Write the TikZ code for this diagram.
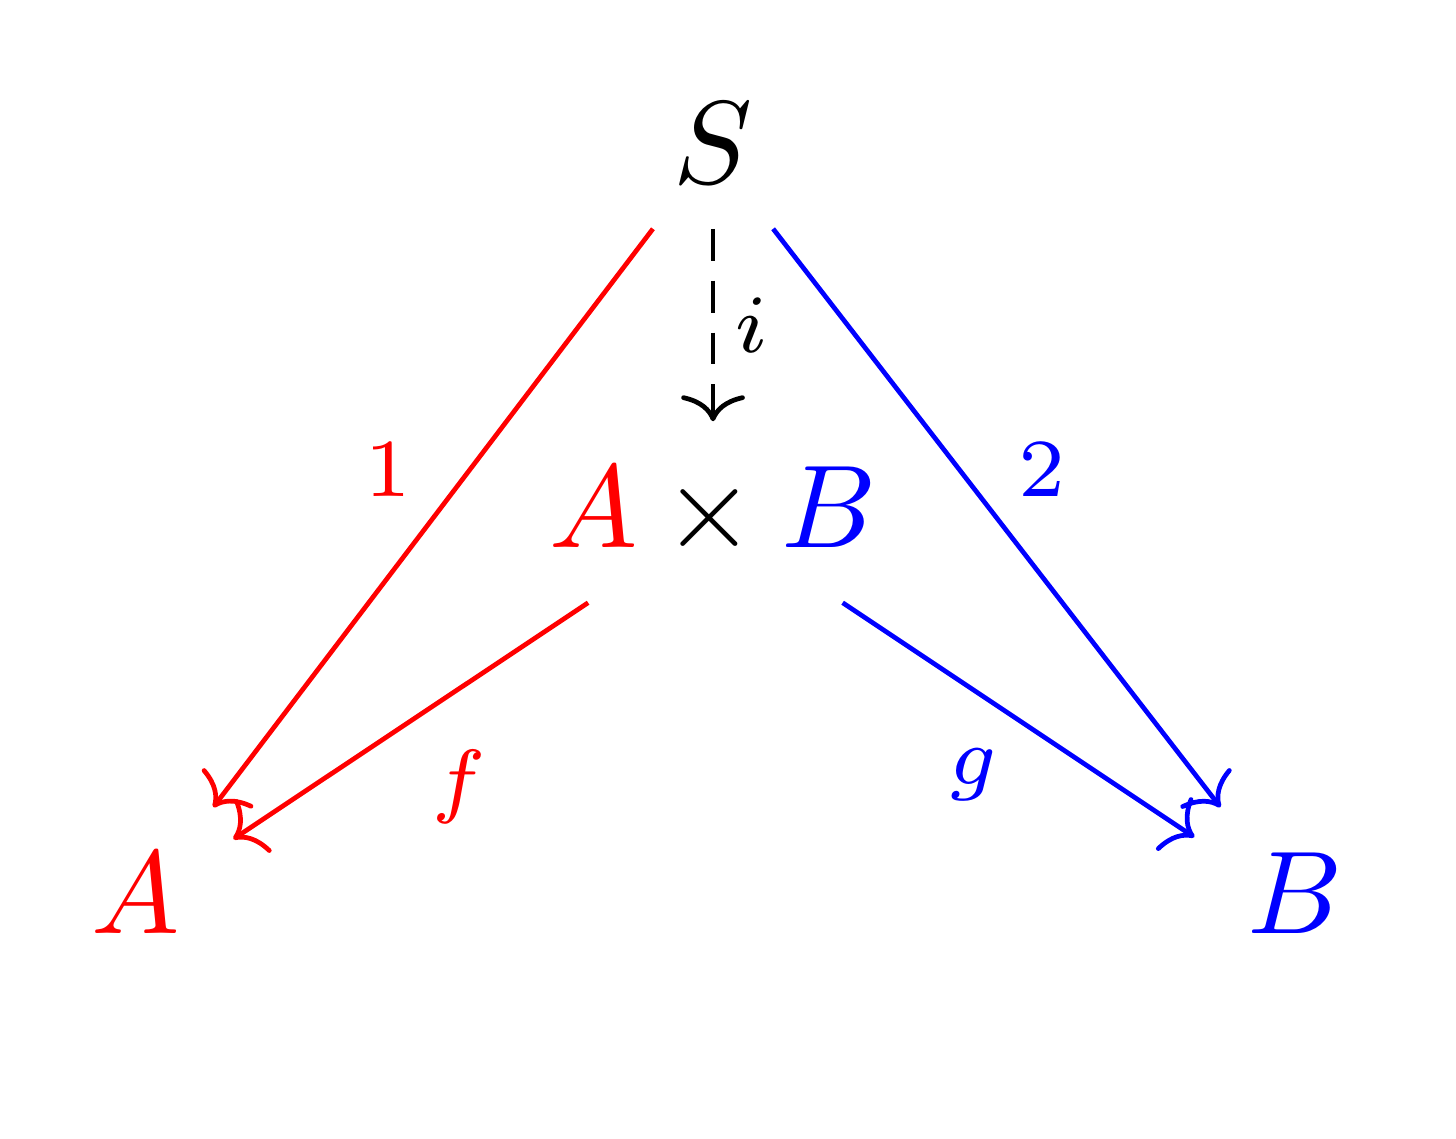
\documentclass[tikz,border=0pt]{standalone}
\usepackage{xcolor}
\usepackage{tikz}
\usetikzlibrary{arrows.meta}

\begin{document}
\begin{tikzpicture}[x=.298cm,y=.298cm,>={To[length=2.2pt,width=5.4pt]},
  obj/.style={inner xsep=4.3pt,inner ysep=3.66pt},
  lab/.style={font=\scriptsize,inner sep=1.6pt}]
\useasboundingbox (0,0) rectangle (14.56,11.38);
% objects
\node[obj] (S) at (7.13,9.95) {$S$};
\node[obj] (AB) at (7.13,6.26) {$\textcolor{red}{A}\times\textcolor{blue}{B}$};
\node[obj,red] (A) at (1.36,2.45) {$A$};
\node[obj,blue] (B) at (12.95,2.45) {$B$};
% maps
\draw[->,red] (S.-125) -- node[lab,above left]{$1$} (A.48);
\draw[->,blue] (S.-55) -- node[lab,above right]{$2$} (B.131);
\draw[->,dash pattern=on 2.7pt off 1.7pt] (S) -- node[lab,right]{$i$} (AB);
\draw[->,red] (AB.-144.6) -- node[lab,below right,yshift=-.7pt]{$f$} (A.29);
\draw[->,blue] (AB.-35.4) -- node[lab,below left,yshift=-.7pt]{$g$} (B.151);
\end{tikzpicture}
\end{document}
